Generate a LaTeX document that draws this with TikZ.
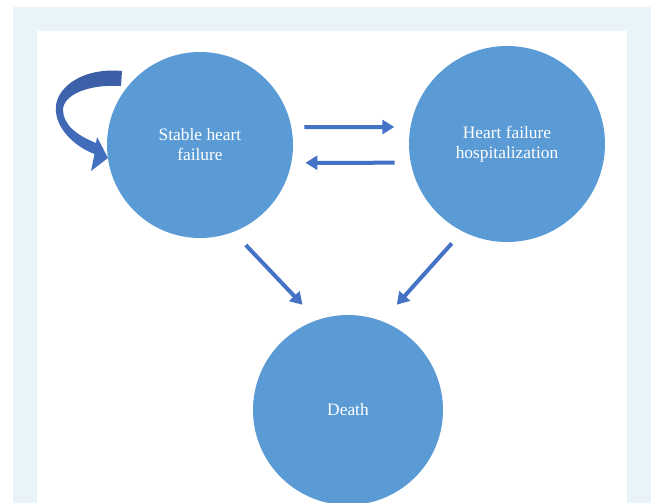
\documentclass[tikz,border=0pt]{standalone}
\usepackage{fontspec}
\setmainfont{Liberation Serif}
\usetikzlibrary{arrows.meta}
\definecolor{bandblue}{HTML}{E8F4F8}
\definecolor{nodeblue}{HTML}{5B9BD5}
\definecolor{arrowblue}{HTML}{4472C4}
\definecolor{loopdark}{HTML}{3A5DA3}

\begin{document}
\begin{tikzpicture}[x=1pt,y=-1pt,
    stage/.style={circle, fill=nodeblue, inner sep=0pt, text=white, align=center,
      font=\fontsize{17.4}{20}\selectfont},
    flow/.style={draw=arrowblue, line width=4pt, -{Triangle[length=12pt,width=14pt]}}]
        \useasboundingbox (0,0) rectangle (651,503);
        \fill[bandblue] (13,7) rectangle (651,503);
        \fill[white] (37,31) rectangle (627,503);

        \node[stage, minimum size=186pt] at (200,145)(sh){Stable heart\\failure};
        \node[stage, minimum size=196pt] at (507,144)(hfh){Heart failure\\hospitalization};
        \node[stage, minimum size=190pt] at (348,410)(death){Death};

        % self loop on stable state
        \shade[top color=loopdark, bottom color=arrowblue]
        (122,71) .. controls (80,67) and (53,90) .. (56,112)
        .. controls (58,132) and (78,148) .. (94.5,154)
        -- (91,171) -- (108,158) -- (97,137) -- (96,143)
        .. controls (78,136) and (63,125) .. (63,110)
        .. controls (63,95) and (88,84) .. (121,86) -- cycle;

        \draw[flow, shorten <=13pt, shorten >=16pt] (sh.11) -- (hfh.170);
        \draw[flow, shorten <=16pt, shorten >=14pt] (hfh.191) -- (sh.-11);
        \draw[flow, shorten <=18pt, shorten >=21pt] (sh.-69) -- (death.109);
        \draw[flow, shorten <=16pt, shorten >=22pt] (hfh.-117) -- (death.69);
    \end{tikzpicture}
\end{document}
